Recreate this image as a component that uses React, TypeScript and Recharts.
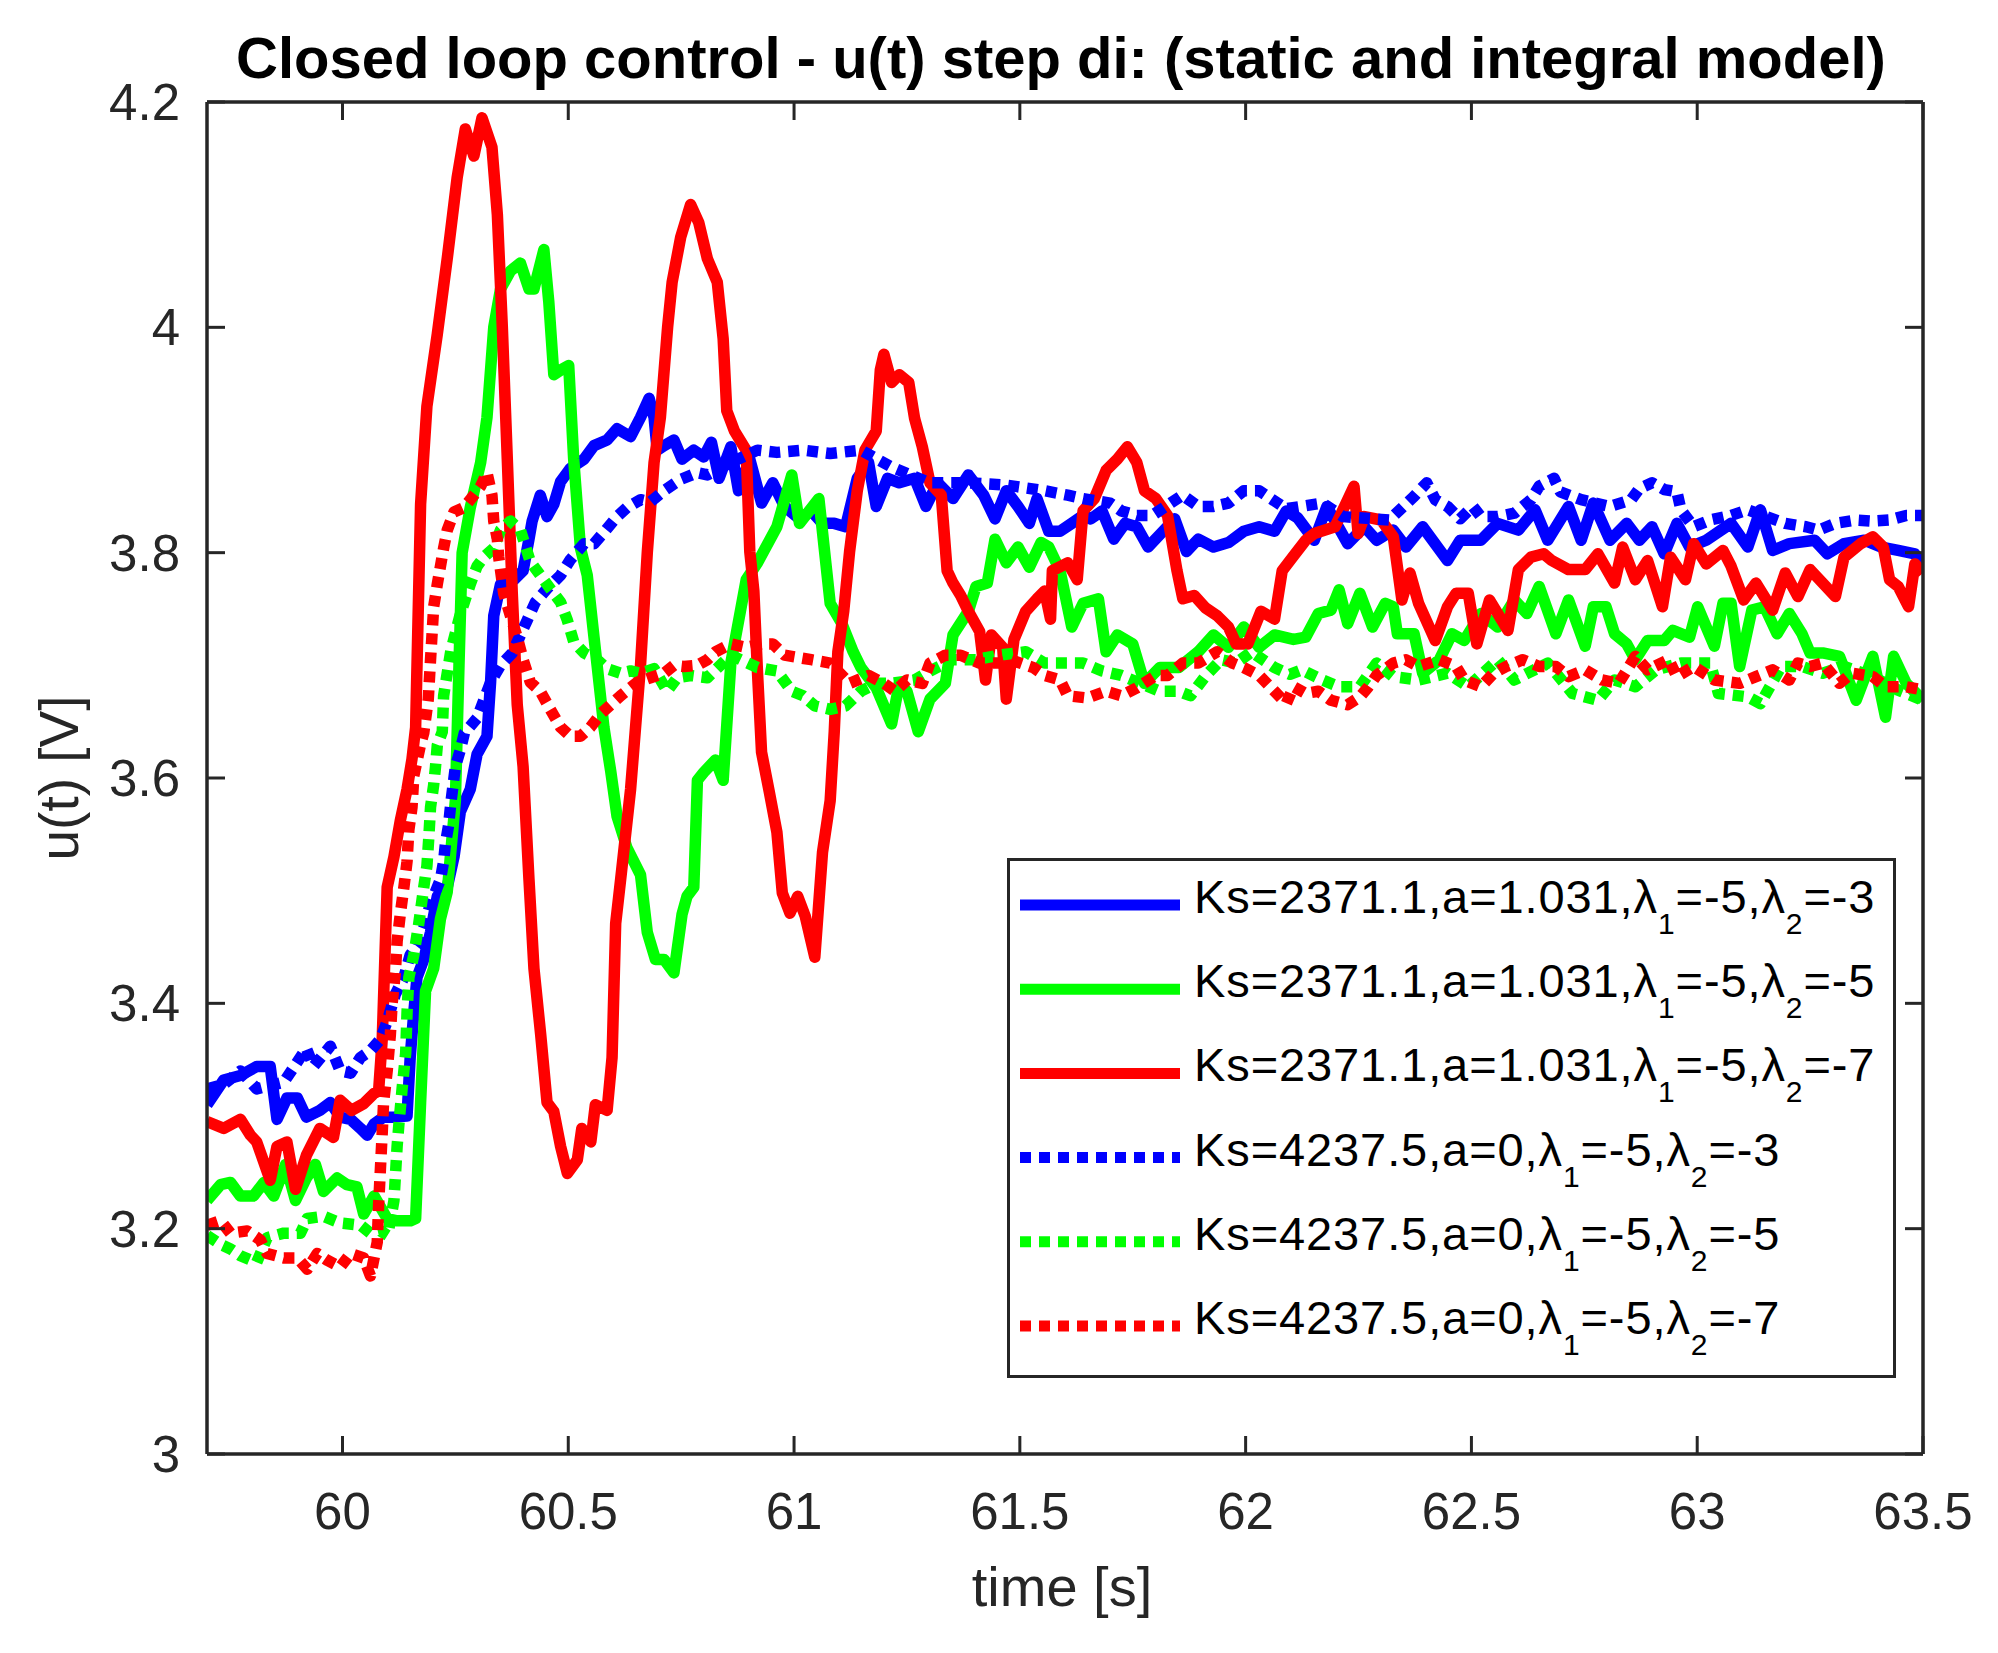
import React from "react";
import { LineChart, Line, XAxis, YAxis, Legend } from "recharts";

// chart geometry (the plot box in the reference is 207..1923 x 102..1454)
const W = 1998;
const H = 1653;
const FONT = "'Liberation Sans', Arial, Helvetica, sans-serif";
const AX = "#262626";
const TICK = 18;

const xTicks = [60, 60.5, 61, 61.5, 62, 62.5, 63, 63.5];
const yTicks = [3, 3.2, 3.4, 3.6, 3.8, 4, 4.2];

// [time s, u V]
const blueSolid = [
  [59.7, 3.31], [59.737, 3.332], [59.774, 3.336], [59.81, 3.344], [59.84, 3.344], [59.855, 3.297],
  [59.877, 3.316], [59.9, 3.316], [59.92, 3.299], [59.95, 3.305], [59.973, 3.312], [59.995, 3.299],
  [60.018, 3.297], [60.04, 3.289], [60.055, 3.283], [60.07, 3.293], [60.091, 3.299], [60.114, 3.299],
  [60.143, 3.3], [60.15, 3.352], [60.158, 3.392], [60.165, 3.423], [60.18, 3.439], [60.195, 3.463],
  [60.21, 3.495], [60.232, 3.503], [60.247, 3.53], [60.261, 3.57], [60.283, 3.59], [60.298, 3.621],
  [60.32, 3.637], [60.328, 3.685], [60.335, 3.744], [60.35, 3.772], [60.38, 3.776], [60.4, 3.784],
  [60.413, 3.812], [60.42, 3.828], [60.438, 3.851], [60.453, 3.832], [60.468, 3.843], [60.483, 3.863],
  [60.505, 3.875], [60.535, 3.883], [60.557, 3.895], [60.586, 3.9], [60.608, 3.91], [60.638, 3.903],
  [60.66, 3.92], [60.679, 3.937], [60.69, 3.92], [60.697, 3.891], [60.712, 3.895], [60.734, 3.9],
  [60.752, 3.883], [60.778, 3.891], [60.8, 3.885], [60.817, 3.898], [60.834, 3.866], [60.86, 3.894],
  [60.877, 3.855], [60.902, 3.883], [60.928, 3.844], [60.953, 3.862], [60.979, 3.841], [61.012, 3.83],
  [61.038, 3.837], [61.063, 3.826], [61.089, 3.826], [61.114, 3.823], [61.14, 3.866], [61.165, 3.88],
  [61.182, 3.841], [61.207, 3.866], [61.233, 3.862], [61.267, 3.866], [61.292, 3.841], [61.318, 3.862],
  [61.352, 3.848], [61.386, 3.869], [61.42, 3.851], [61.445, 3.83], [61.47, 3.855], [61.496, 3.841],
  [61.521, 3.826], [61.538, 3.848], [61.564, 3.819], [61.589, 3.819], [61.615, 3.826], [61.64, 3.833],
  [61.657, 3.83], [61.682, 3.837], [61.708, 3.812], [61.733, 3.826], [61.759, 3.823], [61.784, 3.805],
  [61.81, 3.816], [61.843, 3.83], [61.869, 3.801], [61.895, 3.812], [61.929, 3.805], [61.962, 3.809],
  [61.996, 3.819], [62.03, 3.823], [62.064, 3.819], [62.09, 3.837], [62.115, 3.831], [62.152, 3.811],
  [62.18, 3.841], [62.226, 3.808], [62.263, 3.823], [62.29, 3.811], [62.327, 3.82], [62.355, 3.805],
  [62.392, 3.823], [62.447, 3.793], [62.475, 3.811], [62.521, 3.811], [62.558, 3.826], [62.604, 3.82],
  [62.641, 3.838], [62.669, 3.811], [62.715, 3.841], [62.743, 3.811], [62.77, 3.844], [62.807, 3.811],
  [62.844, 3.826], [62.872, 3.811], [62.9, 3.823], [62.927, 3.799], [62.955, 3.826], [62.983, 3.805],
  [63.02, 3.811], [63.075, 3.826], [63.112, 3.805], [63.14, 3.838], [63.167, 3.802], [63.204, 3.808],
  [63.26, 3.811], [63.288, 3.799], [63.325, 3.808], [63.37, 3.811], [63.408, 3.805], [63.445, 3.802],
  [63.482, 3.799], [63.5, 3.788],
];

const greenSolid = [
  [59.7, 3.225], [59.73, 3.239], [59.752, 3.241], [59.774, 3.229], [59.803, 3.229], [59.826, 3.241],
  [59.848, 3.229], [59.874, 3.257], [59.896, 3.225], [59.92, 3.245], [59.94, 3.257], [59.958, 3.233],
  [59.988, 3.245], [60.01, 3.239], [60.032, 3.237], [60.047, 3.213], [60.07, 3.229], [60.099, 3.209],
  [60.121, 3.207], [60.151, 3.207], [60.162, 3.209], [60.173, 3.312], [60.184, 3.411], [60.202, 3.431],
  [60.217, 3.475], [60.232, 3.499], [60.25, 3.58], [60.258, 3.7], [60.265, 3.8], [60.283, 3.84],
  [60.306, 3.88], [60.32, 3.92], [60.335, 4.0], [60.35, 4.034], [60.372, 4.05], [60.394, 4.057],
  [60.413, 4.034], [60.424, 4.034], [60.446, 4.069], [60.457, 4.022], [60.468, 3.958], [60.483, 3.962],
  [60.501, 3.966], [60.512, 3.883], [60.527, 3.804], [60.542, 3.78], [60.557, 3.725], [60.579, 3.645],
  [60.594, 3.606], [60.608, 3.566], [60.63, 3.538], [60.66, 3.514], [60.675, 3.463], [60.693, 3.439],
  [60.712, 3.439], [60.734, 3.427], [60.752, 3.479], [60.763, 3.495], [60.778, 3.503], [60.786, 3.598],
  [60.8, 3.605], [60.826, 3.616], [60.843, 3.598], [60.86, 3.702], [60.894, 3.776], [60.919, 3.791],
  [60.962, 3.823], [60.995, 3.869], [61.012, 3.826], [61.055, 3.848], [61.08, 3.755], [61.106, 3.737],
  [61.131, 3.712], [61.148, 3.698], [61.182, 3.68], [61.216, 3.648], [61.233, 3.684], [61.25, 3.677],
  [61.275, 3.641], [61.301, 3.67], [61.335, 3.684], [61.352, 3.727], [61.386, 3.748], [61.403, 3.77],
  [61.428, 3.773], [61.445, 3.812], [61.47, 3.791], [61.496, 3.805], [61.521, 3.787], [61.547, 3.809],
  [61.564, 3.805], [61.589, 3.784], [61.615, 3.734], [61.64, 3.755], [61.674, 3.759], [61.691, 3.712],
  [61.716, 3.727], [61.75, 3.719], [61.776, 3.684], [61.81, 3.698], [61.852, 3.698], [61.895, 3.712],
  [61.929, 3.727], [61.962, 3.716], [61.996, 3.734], [62.03, 3.716], [62.064, 3.727], [62.106, 3.723],
  [62.133, 3.725], [62.161, 3.746], [62.189, 3.749], [62.207, 3.767], [62.226, 3.737], [62.253, 3.764],
  [62.281, 3.734], [62.309, 3.755], [62.327, 3.752], [62.336, 3.728], [62.373, 3.728], [62.392, 3.693],
  [62.429, 3.705], [62.457, 3.728], [62.484, 3.722], [62.521, 3.746], [62.558, 3.734], [62.595, 3.758],
  [62.623, 3.746], [62.65, 3.77], [62.687, 3.728], [62.715, 3.758], [62.752, 3.717], [62.77, 3.752],
  [62.798, 3.752], [62.817, 3.728], [62.844, 3.719], [62.863, 3.705], [62.89, 3.722], [62.927, 3.722],
  [62.946, 3.731], [62.983, 3.725], [63.001, 3.752], [63.038, 3.717], [63.057, 3.755], [63.075, 3.755],
  [63.094, 3.699], [63.121, 3.749], [63.149, 3.752], [63.177, 3.728], [63.204, 3.746], [63.232, 3.728],
  [63.25, 3.711], [63.278, 3.711], [63.315, 3.708], [63.352, 3.669], [63.389, 3.708], [63.417, 3.654],
  [63.435, 3.708], [63.463, 3.684], [63.5, 3.669],
];

const redSolid = [
  [59.7, 3.295], [59.737, 3.289], [59.774, 3.297], [59.796, 3.283], [59.81, 3.277], [59.84, 3.243],
  [59.855, 3.273], [59.877, 3.277], [59.896, 3.235], [59.92, 3.265], [59.95, 3.289], [59.98, 3.281],
  [59.995, 3.314], [60.02, 3.305], [60.047, 3.311], [60.07, 3.32], [60.08, 3.322], [60.088, 3.368],
  [60.099, 3.503], [60.114, 3.53], [60.128, 3.562], [60.143, 3.59], [60.154, 3.617], [60.162, 3.645],
  [60.173, 3.843], [60.187, 3.93], [60.21, 3.994], [60.232, 4.061], [60.254, 4.133], [60.272, 4.176],
  [60.291, 4.152], [60.309, 4.186], [60.331, 4.16], [60.343, 4.1], [60.354, 4.0], [60.365, 3.883],
  [60.376, 3.764], [60.387, 3.665], [60.4, 3.61], [60.413, 3.51], [60.424, 3.431], [60.439, 3.372],
  [60.453, 3.312], [60.468, 3.304], [60.483, 3.273], [60.498, 3.249], [60.52, 3.261], [60.53, 3.289],
  [60.55, 3.277], [60.56, 3.31], [60.586, 3.305], [60.597, 3.352], [60.605, 3.471], [60.616, 3.51],
  [60.638, 3.59], [60.66, 3.7], [60.675, 3.8], [60.69, 3.88], [60.704, 3.92], [60.72, 4.0],
  [60.73, 4.04], [60.749, 4.08], [60.771, 4.109], [60.789, 4.093], [60.808, 4.061], [60.83, 4.04],
  [60.843, 3.99], [60.851, 3.926], [60.868, 3.908], [60.894, 3.891], [60.902, 3.801], [60.911, 3.766],
  [60.919, 3.694], [60.928, 3.623], [60.945, 3.588], [60.962, 3.552], [60.974, 3.498], [60.991, 3.48],
  [61.008, 3.495], [61.025, 3.477], [61.046, 3.441], [61.063, 3.534], [61.08, 3.58], [61.089, 3.641],
  [61.097, 3.712], [61.11, 3.748], [61.123, 3.801], [61.14, 3.855], [61.157, 3.891], [61.182, 3.908],
  [61.191, 3.962], [61.199, 3.976], [61.216, 3.951], [61.233, 3.958], [61.254, 3.951], [61.267, 3.919],
  [61.284, 3.894], [61.301, 3.862], [61.326, 3.851], [61.339, 3.784], [61.352, 3.773], [61.369, 3.762],
  [61.386, 3.748], [61.411, 3.73], [61.424, 3.687], [61.437, 3.727], [61.462, 3.716], [61.47, 3.67],
  [61.487, 3.723], [61.513, 3.748], [61.538, 3.759], [61.555, 3.766], [61.568, 3.741], [61.572, 3.784],
  [61.606, 3.791], [61.627, 3.776], [61.64, 3.837], [61.665, 3.848], [61.691, 3.873], [61.716, 3.883],
  [61.738, 3.894], [61.759, 3.88], [61.776, 3.855], [61.801, 3.848], [61.827, 3.833], [61.848, 3.784],
  [61.861, 3.759], [61.886, 3.762], [61.911, 3.751], [61.937, 3.744], [61.962, 3.734], [61.979, 3.719],
  [62.005, 3.719], [62.034, 3.748], [62.064, 3.741], [62.081, 3.784], [62.106, 3.797], [62.133, 3.811],
  [62.152, 3.817], [62.198, 3.823], [62.24, 3.859], [62.249, 3.817], [62.263, 3.832], [62.3, 3.829],
  [62.327, 3.814], [62.346, 3.758], [62.364, 3.782], [62.383, 3.755], [62.42, 3.722], [62.447, 3.752],
  [62.466, 3.764], [62.493, 3.764], [62.512, 3.719], [62.54, 3.758], [62.581, 3.731], [62.604, 3.785],
  [62.632, 3.796], [62.66, 3.799], [62.678, 3.793], [62.715, 3.785], [62.752, 3.785], [62.78, 3.799],
  [62.817, 3.773], [62.835, 3.805], [62.863, 3.776], [62.89, 3.793], [62.923, 3.752], [62.941, 3.796],
  [62.974, 3.776], [62.992, 3.808], [63.02, 3.79], [63.057, 3.802], [63.075, 3.788], [63.103, 3.758],
  [63.13, 3.773], [63.167, 3.749], [63.195, 3.782], [63.223, 3.761], [63.25, 3.785], [63.278, 3.773],
  [63.306, 3.761], [63.325, 3.796], [63.362, 3.808], [63.389, 3.814], [63.412, 3.805], [63.426, 3.776],
  [63.445, 3.77], [63.468, 3.752], [63.482, 3.79], [63.5, 3.782],
];

const blueDotted = [
  [59.7, 3.324], [59.737, 3.328], [59.774, 3.34], [59.81, 3.324], [59.87, 3.33], [59.92, 3.36],
  [59.936, 3.344], [59.973, 3.362], [59.995, 3.34], [60.018, 3.338], [60.04, 3.352], [60.062, 3.358],
  [60.084, 3.368], [60.099, 3.384], [60.117, 3.408], [60.136, 3.423], [60.15, 3.443], [60.165, 3.451],
  [60.18, 3.467], [60.191, 3.483], [60.202, 3.495], [60.217, 3.51], [60.224, 3.526], [60.228, 3.542],
  [60.235, 3.558], [60.24, 3.578], [60.245, 3.594], [60.25, 3.61], [60.261, 3.625], [60.27, 3.64],
  [60.298, 3.653], [60.328, 3.685], [60.35, 3.7], [60.376, 3.711], [60.409, 3.74], [60.427, 3.756],
  [60.453, 3.768], [60.483, 3.78], [60.505, 3.794], [60.535, 3.808], [60.557, 3.808], [60.583, 3.82],
  [60.608, 3.832], [60.63, 3.84], [60.66, 3.847], [60.682, 3.845], [60.712, 3.855], [60.749, 3.865],
  [60.786, 3.871], [60.808, 3.869], [60.86, 3.88], [60.919, 3.891], [60.962, 3.889], [61.02, 3.891],
  [61.08, 3.888], [61.148, 3.891], [61.216, 3.876], [61.3, 3.862], [61.386, 3.862], [61.47, 3.86],
  [61.555, 3.855], [61.606, 3.851], [61.64, 3.848], [61.7, 3.844], [61.725, 3.837], [61.759, 3.833],
  [61.793, 3.833], [61.86, 3.851], [61.895, 3.841], [61.929, 3.841], [61.962, 3.844], [61.996, 3.855],
  [62.03, 3.855], [62.056, 3.848], [62.09, 3.839], [62.17, 3.844], [62.216, 3.832], [62.318, 3.829],
  [62.373, 3.85], [62.401, 3.862], [62.42, 3.847], [62.447, 3.841], [62.475, 3.83], [62.503, 3.841],
  [62.521, 3.832], [62.558, 3.832], [62.595, 3.835], [62.632, 3.847], [62.65, 3.859], [62.683, 3.866],
  [62.697, 3.854], [62.743, 3.847], [62.807, 3.841], [62.854, 3.847], [62.872, 3.857], [62.9, 3.862],
  [62.927, 3.856], [62.955, 3.854], [62.964, 3.838], [62.992, 3.823], [63.029, 3.829], [63.075, 3.833],
  [63.112, 3.838], [63.195, 3.826], [63.241, 3.823], [63.269, 3.82], [63.306, 3.826], [63.352, 3.829],
  [63.389, 3.828], [63.426, 3.829], [63.463, 3.833], [63.5, 3.833],
];

const greenDotted = [
  [59.7, 3.194], [59.73, 3.186], [59.752, 3.182], [59.774, 3.176], [59.81, 3.17], [59.833, 3.192],
  [59.87, 3.196], [59.907, 3.196], [59.922, 3.209], [59.958, 3.211], [59.995, 3.205], [60.04, 3.203],
  [60.062, 3.196], [60.084, 3.198], [60.1, 3.194], [60.114, 3.225], [60.121, 3.273], [60.125, 3.293],
  [60.132, 3.324], [60.14, 3.356], [60.143, 3.392], [60.147, 3.423], [60.158, 3.443], [60.169, 3.471],
  [60.18, 3.503], [60.187, 3.522], [60.191, 3.546], [60.195, 3.574], [60.202, 3.594], [60.206, 3.61],
  [60.21, 3.629], [60.221, 3.641], [60.224, 3.673], [60.24, 3.713], [60.26, 3.744], [60.283, 3.772],
  [60.298, 3.788], [60.313, 3.796], [60.335, 3.804], [60.35, 3.82], [60.372, 3.828], [60.394, 3.82],
  [60.416, 3.792], [60.438, 3.78], [60.46, 3.768], [60.483, 3.756], [60.498, 3.74], [60.512, 3.721],
  [60.535, 3.711], [60.564, 3.705], [60.586, 3.697], [60.616, 3.693], [60.638, 3.695], [60.66, 3.693],
  [60.69, 3.697], [60.719, 3.677], [60.741, 3.689], [60.771, 3.691], [60.808, 3.689], [60.86, 3.709],
  [60.919, 3.698], [60.962, 3.695], [60.995, 3.677], [61.02, 3.673], [61.046, 3.664], [61.08, 3.661],
  [61.114, 3.664], [61.148, 3.677], [61.182, 3.684], [61.216, 3.684], [61.267, 3.687], [61.301, 3.695],
  [61.352, 3.705], [61.403, 3.705], [61.453, 3.709], [61.513, 3.712], [61.555, 3.702], [61.598, 3.702],
  [61.64, 3.702], [61.682, 3.695], [61.725, 3.691], [61.767, 3.684], [61.81, 3.677], [61.852, 3.677],
  [61.878, 3.673], [61.912, 3.691], [61.946, 3.705], [61.979, 3.702], [62.013, 3.712], [62.064, 3.698],
  [62.098, 3.692], [62.124, 3.696], [62.17, 3.687], [62.207, 3.681], [62.253, 3.681], [62.29, 3.702],
  [62.327, 3.69], [62.383, 3.687], [62.447, 3.693], [62.493, 3.681], [62.558, 3.705], [62.595, 3.687],
  [62.669, 3.702], [62.724, 3.675], [62.78, 3.669], [62.817, 3.687], [62.863, 3.681], [62.909, 3.696],
  [62.964, 3.702], [63.029, 3.702], [63.047, 3.675], [63.112, 3.672], [63.14, 3.666], [63.186, 3.699],
  [63.232, 3.699], [63.278, 3.693], [63.325, 3.699], [63.389, 3.69], [63.445, 3.678], [63.5, 3.669],
];

const redDotted = [
  [59.7, 3.203], [59.73, 3.207], [59.752, 3.196], [59.789, 3.198], [59.818, 3.19], [59.833, 3.178],
  [59.87, 3.174], [59.9, 3.174], [59.922, 3.164], [59.944, 3.178], [59.966, 3.172], [59.995, 3.166],
  [60.018, 3.178], [60.047, 3.174], [60.062, 3.158], [60.077, 3.188], [60.08, 3.221], [60.084, 3.253],
  [60.088, 3.285], [60.091, 3.312], [60.099, 3.34], [60.106, 3.372], [60.11, 3.4], [60.117, 3.427],
  [60.121, 3.455], [60.128, 3.479], [60.136, 3.503], [60.143, 3.526], [60.147, 3.554], [60.154, 3.574],
  [60.158, 3.602], [60.165, 3.615], [60.173, 3.63], [60.18, 3.64], [60.19, 3.67], [60.195, 3.705],
  [60.202, 3.752], [60.21, 3.772], [60.224, 3.804], [60.232, 3.82], [60.247, 3.836], [60.269, 3.84],
  [60.291, 3.851], [60.306, 3.859], [60.32, 3.871], [60.331, 3.851], [60.335, 3.828], [60.343, 3.812],
  [60.346, 3.796], [60.357, 3.764], [60.372, 3.744], [60.387, 3.725], [60.4, 3.705], [60.416, 3.685],
  [60.438, 3.677], [60.46, 3.661], [60.483, 3.645], [60.505, 3.637], [60.527, 3.637], [60.549, 3.645],
  [60.572, 3.657], [60.594, 3.665], [60.616, 3.673], [60.653, 3.685], [60.682, 3.689], [60.712, 3.693],
  [60.734, 3.7], [60.756, 3.699], [60.786, 3.7], [60.808, 3.705], [60.826, 3.712], [60.86, 3.719],
  [60.894, 3.716], [60.928, 3.719], [60.953, 3.719], [60.979, 3.709], [61.038, 3.705], [61.08, 3.702],
  [61.123, 3.684], [61.165, 3.691], [61.199, 3.684], [61.224, 3.677], [61.25, 3.687], [61.284, 3.684],
  [61.301, 3.702], [61.335, 3.709], [61.369, 3.709], [61.411, 3.702], [61.453, 3.702], [61.479, 3.705],
  [61.53, 3.698], [61.555, 3.691], [61.589, 3.687], [61.606, 3.673], [61.649, 3.671], [61.691, 3.677],
  [61.725, 3.673], [61.759, 3.68], [61.801, 3.691], [61.827, 3.691], [61.861, 3.702], [61.895, 3.702],
  [61.937, 3.712], [61.971, 3.702], [61.996, 3.698], [62.03, 3.691], [62.064, 3.677], [62.09, 3.666],
  [62.106, 3.681], [62.133, 3.675], [62.161, 3.677], [62.189, 3.669], [62.226, 3.665], [62.253, 3.672],
  [62.272, 3.681], [62.29, 3.691], [62.327, 3.702], [62.355, 3.705], [62.383, 3.699], [62.429, 3.705],
  [62.466, 3.699], [62.484, 3.687], [62.521, 3.681], [62.549, 3.693], [62.577, 3.699], [62.614, 3.705],
  [62.65, 3.699], [62.687, 3.699], [62.715, 3.69], [62.752, 3.696], [62.789, 3.687], [62.826, 3.684],
  [62.863, 3.708], [62.89, 3.696], [62.937, 3.705], [62.955, 3.69], [62.992, 3.699], [63.038, 3.687],
  [63.094, 3.684], [63.13, 3.69], [63.167, 3.696], [63.204, 3.687], [63.223, 3.702], [63.25, 3.699],
  [63.278, 3.702], [63.315, 3.684], [63.343, 3.693], [63.389, 3.69], [63.417, 3.681], [63.463, 3.681],
  [63.5, 3.678],
];

const toRows = (pts: number[][]) => pts.map(([t, u]) => ({ t, u }));

const series = [
  { key: "bs", pts: blueSolid, color: "#0000ff", dotted: false, ks: "2371.1", a: "1.031", l2: "-3" },
  { key: "gs", pts: greenSolid, color: "#00ff00", dotted: false, ks: "2371.1", a: "1.031", l2: "-5" },
  { key: "rs", pts: redSolid, color: "#ff0000", dotted: false, ks: "2371.1", a: "1.031", l2: "-7" },
  { key: "bd", pts: blueDotted, color: "#0000ff", dotted: true, ks: "4237.5", a: "0", l2: "-3" },
  { key: "gd", pts: greenDotted, color: "#00ff00", dotted: true, ks: "4237.5", a: "0", l2: "-5" },
  { key: "rd", pts: redDotted, color: "#ff0000", dotted: true, ks: "4237.5", a: "0", l2: "-7" },
];

const DASH = "11 8";
const LW = 11.5;

const BottomTick = (props: any) => {
  const { x, y, payload } = props;
  return (
    <g>
      <line x1={x} x2={x} y1={y} y2={y - TICK} stroke={AX} strokeWidth={3} />
      <text x={x} y={y + 75} textAnchor="middle" fontSize={51} fill={AX} fontFamily={FONT}>
        {payload.value}
      </text>
    </g>
  );
};

const TopTick = (props: any) => {
  const { x, y } = props;
  return <line x1={x} x2={x} y1={y} y2={y + TICK} stroke={AX} strokeWidth={3} />;
};

const LeftTick = (props: any) => {
  const { x, y, payload } = props;
  return (
    <g>
      <line x1={x} x2={x + TICK} y1={y} y2={y} stroke={AX} strokeWidth={3} />
      <text x={x - 27} y={y + 18} textAnchor="end" fontSize={51} fill={AX} fontFamily={FONT}>
        {payload.value}
      </text>
    </g>
  );
};

const RightTick = (props: any) => {
  const { x, y } = props;
  return <line x1={x - TICK} x2={x} y1={y} y2={y} stroke={AX} strokeWidth={3} />;
};

const TitleLabel = (props: any) => {
  const vb = props.viewBox || {};
  return (
    <text x={vb.x + vb.width / 2 - 4} y={78} textAnchor="middle" fontSize={58} fontWeight="bold"
      fill="#000" fontFamily={FONT}>
      Closed loop control - u(t) step di: (static and integral model)
    </text>
  );
};

const XLabel = (props: any) => {
  const vb = props.viewBox || {};
  return (
    <text x={vb.x + vb.width / 2 - 3} y={vb.y + 152} textAnchor="middle" fontSize={56} fill={AX}
      fontFamily={FONT}>
      time [s]
    </text>
  );
};

const YLabel = (props: any) => {
  const vb = props.viewBox || {};
  const cx = 78;
  const cy = vb.y + vb.height / 2;
  return (
    <text x={cx} y={cy} transform={`rotate(-90, ${cx}, ${cy})`} textAnchor="middle" fontSize={55}
      fill={AX} fontFamily={FONT}>
      u(t) [V]
    </text>
  );
};

const LegendBox = () => {
  const bw = 889;
  const bh = 520;
  return (
    <svg width={bw} height={bh} style={{ display: "block" }}>
      <rect x={1.5} y={1.5} width={bw - 3} height={bh - 3} fill="#fff" stroke={AX} strokeWidth={3} />
      {series.map((s, i) => {
        const cy = 47 + i * 84.2;
        return (
          <g key={s.key}>
            <line x1={13} x2={173} y1={cy} y2={cy} stroke={s.color} strokeWidth={11}
              strokeDasharray={s.dotted ? DASH : undefined} />
            <text x={187} y={cy + 8} fontSize={47} letterSpacing={0.9} fill="#000" fontFamily={FONT}>
              {`Ks=${s.ks},a=${s.a},λ`}
              <tspan dy={21} fontSize={30}>1</tspan>
              <tspan dy={-21}>=-5,λ</tspan>
              <tspan dy={21} fontSize={30}>2</tspan>
              <tspan dy={-21}>{`=${s.l2}`}</tspan>
            </text>
          </g>
        );
      })}
    </svg>
  );
};

export default function App() {
  return (
    <div style={{ position: "absolute", left: 0, top: 0, width: W, height: H, background: "#fff" }}>
      <LineChart width={W} height={H} margin={{ top: 101, right: 74, bottom: 99, left: 107 }}>
        <XAxis dataKey="t" type="number" domain={[59.7, 63.5]} ticks={xTicks} allowDataOverflow
          interval={0} height={100} tickSize={0} tickMargin={0} tickLine={false}
          axisLine={{ stroke: AX, strokeWidth: 3.5 }} tick={<BottomTick />}
          label={{ content: <XLabel /> }} />
        <XAxis xAxisId="top" orientation="top" dataKey="t" type="number" domain={[59.7, 63.5]}
          ticks={xTicks} allowDataOverflow interval={0} height={1} tickSize={0} tickMargin={0}
          tickLine={false} axisLine={{ stroke: AX, strokeWidth: 3.5 }} tick={<TopTick />}
          label={{ content: <TitleLabel /> }} />
        <YAxis type="number" domain={[3, 4.2]} ticks={yTicks} allowDataOverflow interval={0} width={100}
          tickSize={0} tickMargin={0} tickLine={false} axisLine={{ stroke: AX, strokeWidth: 3.5 }}
          tick={<LeftTick />} label={{ content: <YLabel /> }} />
        <YAxis yAxisId="right" orientation="right" type="number" domain={[3, 4.2]} ticks={yTicks}
          allowDataOverflow interval={0} width={1} tickSize={0} tickMargin={0} tickLine={false}
          axisLine={{ stroke: AX, strokeWidth: 3.5 }} tick={<RightTick />} />
        {series.map((s) => (
          <Line key={s.key} data={toRows(s.pts)} dataKey="u" type="linear" stroke={s.color}
            strokeWidth={LW} strokeDasharray={s.dotted ? DASH : undefined}
            strokeLinejoin="round" dot={false} activeDot={false} isAnimationActive={false}
            legendType="none" />
        ))}
        <Legend layout="vertical" align="center" verticalAlign="middle" content={<LegendBox />}
          wrapperStyle={{ left: 1007, top: 858, width: 889, height: 520 }} />
      </LineChart>
    </div>
  );
}
